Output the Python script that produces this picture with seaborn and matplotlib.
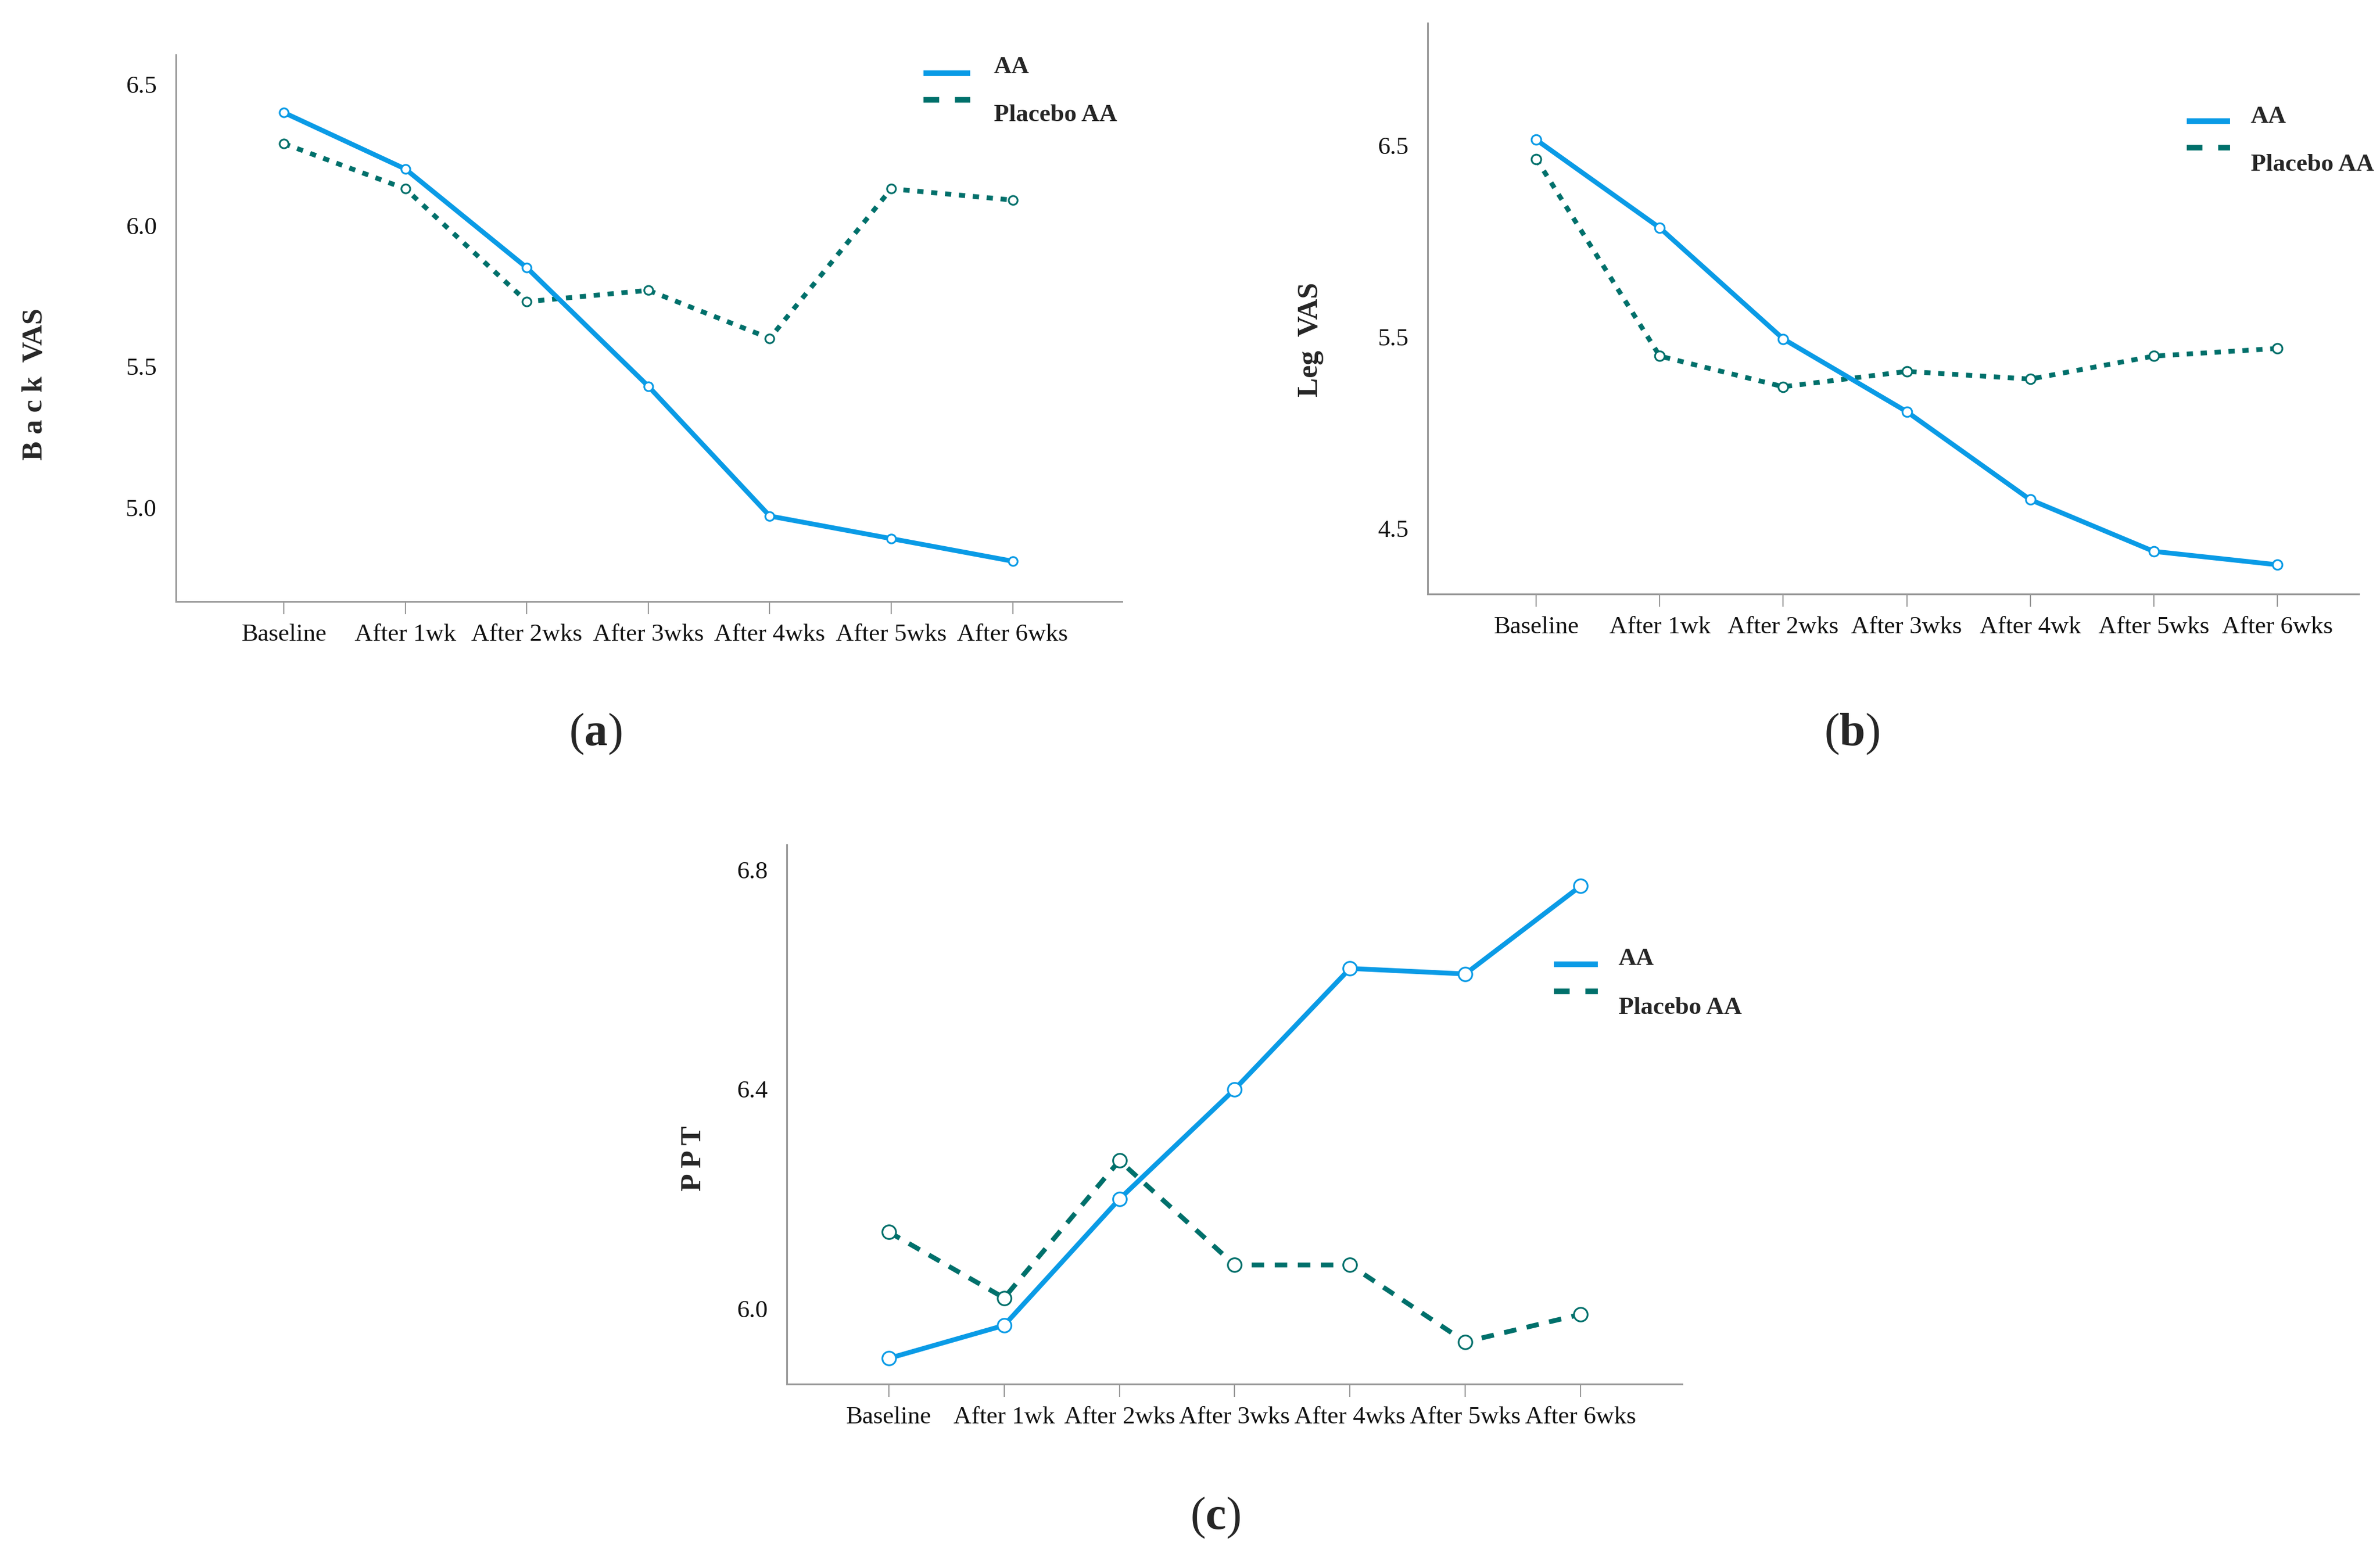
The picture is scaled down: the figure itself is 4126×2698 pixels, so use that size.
import pandas as pd
import matplotlib
matplotlib.use('Agg')
import matplotlib.pyplot as plt
import seaborn as sns
from matplotlib.lines import Line2D

# time points on the x axis
times_a = ['Baseline', 'After 1wk', 'After 2wks', 'After 3wks', 'After 4wks', 'After 5wks', 'After 6wks']
times_b = ['Baseline', 'After 1wk', 'After 2wks', 'After 3wks', 'After 4wk', 'After 5wks', 'After 6wks']
times_c = times_a

# (a) Back VAS
back_aa = [6.40, 6.20, 5.85, 5.43, 4.97, 4.89, 4.81]
back_placebo = [6.29, 6.13, 5.73, 5.77, 5.60, 6.13, 6.09]
back_ticks = [5.0, 5.5, 6.0, 6.5]

# (b) Leg VAS
leg_aa = [6.53, 6.07, 5.49, 5.11, 4.65, 4.38, 4.31]
leg_placebo = [6.43, 5.40, 5.24, 5.32, 5.28, 5.40, 5.44]
leg_ticks = [4.5, 5.5, 6.5]

# (c) PPT
ppt_aa = [5.91, 5.97, 6.20, 6.40, 6.62, 6.61, 6.77]
ppt_placebo = [6.14, 6.02, 6.27, 6.08, 6.08, 5.94, 5.99]
ppt_ticks = [6.0, 6.4, 6.8]

groups = ['AA', 'Placebo AA']

sns.set_theme(style='white')
plt.rcParams['font.family'] = ['Liberation Serif', 'DejaVu Serif']
plt.rcParams['mathtext.fontset'] = 'custom'
plt.rcParams['mathtext.rm'] = 'Liberation Serif'
plt.rcParams['mathtext.bf'] = 'Liberation Serif:bold'

AA_BLUE = '#0a9be6'
TEAL = '#00706b'
GREY = '#9a9a9a'
W, H = 4126, 2698

fig = plt.figure(figsize=(W / 100, H / 100), dpi=100)


def px_box(left, top, right, bottom):
    return [left / W, 1 - bottom / H, (right - left) / W, (bottom - top) / H]


def fx(x):
    return x / W


def fy(y):
    return 1 - y / H


def draw_panel(box, times, aa, placebo, ticks, ylabel, ylim, xlim, dash, msize, lab_xy):
    ax = fig.add_axes(px_box(*box))
    df = pd.DataFrame({
        'time': times + times,
        'score': aa + placebo,
        'group': [groups[0]] * len(aa) + [groups[1]] * len(placebo),
    })
    styles = {'AA': (AA_BLUE, '-', 3), 'Placebo AA': (TEAL, (0, dash), 2)}
    for grp in ['Placebo AA', 'AA']:
        col, ls, z = styles[grp]
        sns.lineplot(data=df[df['group'] == grp], x='time', y='score', ax=ax,
                     color=col, linewidth=6, linestyle=ls, marker='o',
                     markersize=msize, markerfacecolor='white',
                     markeredgecolor=col, markeredgewidth=2.2,
                     sort=False, legend=False, zorder=z)
    ax.set_xlim(xlim)
    ax.set_ylim(ylim)
    ax.set_yticks(ticks)
    ax.set_yticklabels([f'{t:.1f}' for t in ticks])
    ax.set_xlabel('')
    ax.set_ylabel('')
    for s in ['top', 'right']:
        ax.spines[s].set_visible(False)
    for s in ['left', 'bottom']:
        ax.spines[s].set_color(GREY)
        ax.spines[s].set_linewidth(2.2)
    ax.tick_params(axis='x', bottom=True, length=16, width=1.5, color=GREY,
                   labelsize=31, pad=12, labelcolor='#111111')
    ax.tick_params(axis='y', left=False, length=0, labelsize=31, pad=24,
                   labelcolor='#111111')
    ax.text(lab_xy[0], lab_xy[1], ylabel, transform=ax.transAxes, rotation=90,
            ha='center', va='center', fontsize=36, fontweight='bold')
    return ax


def draw_legend(x0, x1, y_aa, y_pl, tx, ty_aa, ty_pl):
    fig.add_artist(Line2D([fx(x0), fx(x1)], [fy(y_aa), fy(y_aa)], color=AA_BLUE,
                          linewidth=7, solid_capstyle='butt', transform=fig.transFigure))
    fig.add_artist(Line2D([fx(x0), fx(x1)], [fy(y_pl), fy(y_pl)], color=TEAL,
                          linewidth=7, linestyle=(0, (2.8, 2.8)), dash_capstyle='butt',
                          transform=fig.transFigure))
    fig.text(fx(tx), fy(ty_aa), groups[0], ha='left', va='center', fontsize=31, fontweight='bold')
    fig.text(fx(tx), fy(ty_pl), groups[1], ha='left', va='center', fontsize=31, fontweight='bold')


draw_panel((305, 95, 1945, 1043), times_a, back_aa, back_placebo, back_ticks,
           'B a c k  VAS', (4.667, 6.605), (-0.89, 6.90), (1.3, 1.6), 11, (-0.149, 0.398))
draw_legend(1601, 1682, 127, 173, 1723, 117, 200)

draw_panel((2475, 40, 4089, 1030), times_b, leg_aa, leg_placebo, leg_ticks,
           'Leg  VAS', (4.157, 7.14), (-0.88, 6.66), (1.3, 1.6), 12, (-0.126, 0.446))
draw_legend(3791, 3866, 210, 256, 3902, 203, 286)

draw_panel((1364, 1465, 2916, 2400), times_c, ppt_aa, ppt_placebo, ppt_ticks,
           'P P T', (5.863, 6.845), (-0.885, 6.88), (2.6, 2.2), 17, (-0.104, 0.419))
draw_legend(2694, 2770, 1672, 1719, 2806, 1663, 1748)

fig.text(fx(1032), fy(1273), r'($\mathbf{a}$)', ha='center', va='center', fontsize=58)
fig.text(fx(3210), fy(1273), r'($\mathbf{b}$)', ha='center', va='center', fontsize=58)
fig.text(fx(2107), fy(2632), r'($\mathbf{c}$)', ha='center', va='center', fontsize=58)

fig.savefig('out.png', dpi=100, facecolor='white')
